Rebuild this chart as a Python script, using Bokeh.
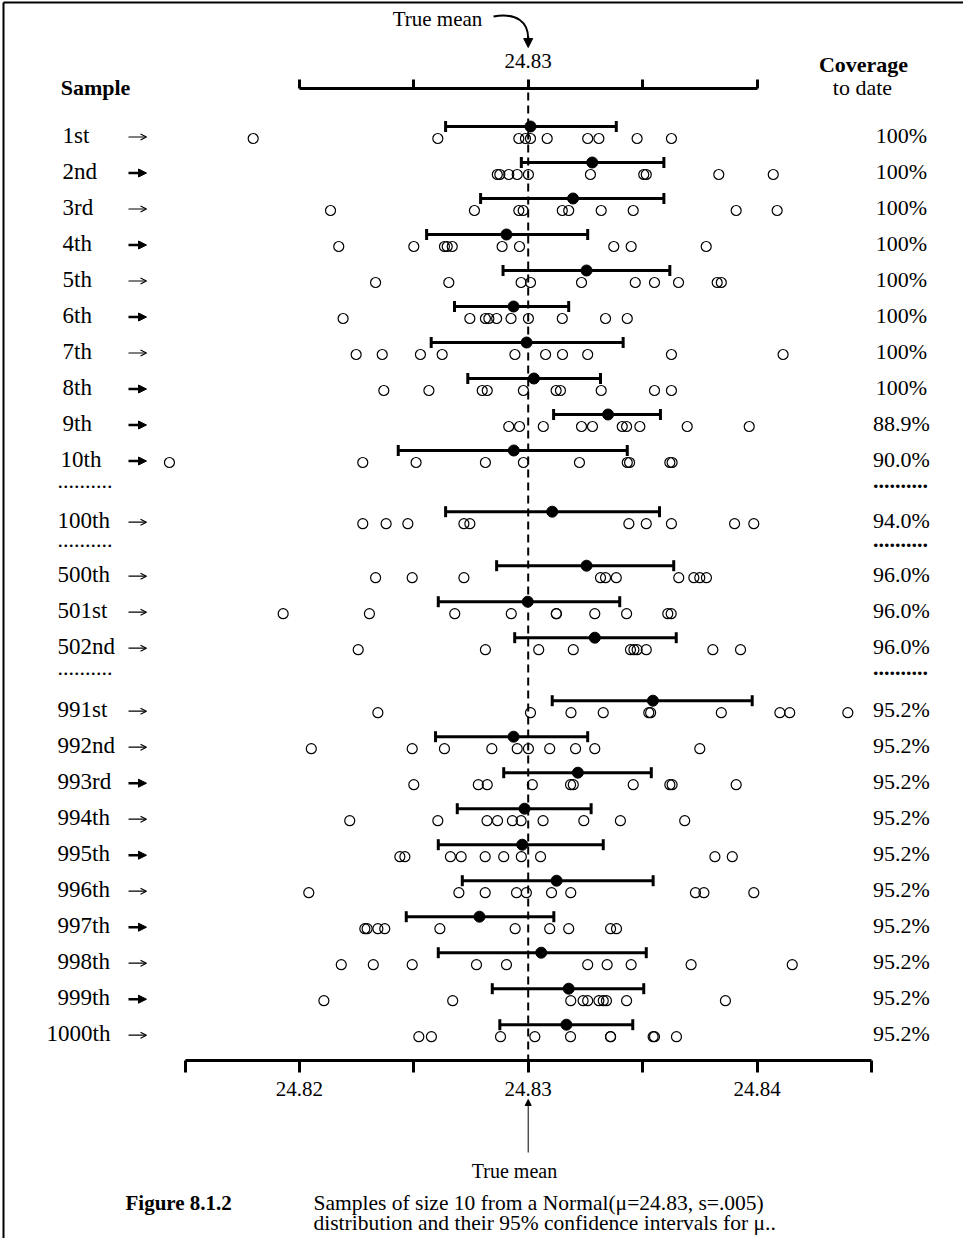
from bokeh.plotting import figure
from bokeh.models import (Range1d, LinearAxis, FixedTicker, PrintfTickFormatter,
                          ColumnDataSource, Arrow, NormalHead, OpenHead)
from bokeh.core.properties import value
from bokeh.embed import file_html
from bokeh.resources import INLINE

# ---------------- data ----------------
TRUE_MEAN = 24.83

sample_labels = ["1st", "2nd", "3rd", "4th", "5th", "6th", "7th", "8th", "9th", "10th",
                 "100th", "500th", "501st", "502nd",
                 "991st", "992nd", "993rd", "994th", "995th", "996th", "997th", "998th",
                 "999th", "1000th"]

coverage_labels = ["100%", "100%", "100%", "100%", "100%", "100%", "100%", "100%",
                   "88.9%", "90.0%", "94.0%", "96.0%", "96.0%", "96.0%",
                   "95.2%", "95.2%", "95.2%", "95.2%", "95.2%", "95.2%", "95.2%",
                   "95.2%", "95.2%", "95.2%"]

samples = [
    [24.81798, 24.82605, 24.82959, 24.82988, 24.83010, 24.83083, 24.83260, 24.83309, 24.83476, 24.83626],
    [24.82865, 24.82876, 24.82915, 24.82952, 24.83001, 24.83272, 24.83505, 24.83516, 24.83833, 24.84071],
    [24.82136, 24.82765, 24.82959, 24.82978, 24.83149, 24.83177, 24.83319, 24.83459, 24.83909, 24.84088],
    [24.82172, 24.82500, 24.82634, 24.82646, 24.82668, 24.82886, 24.82962, 24.83374, 24.83450, 24.83778],
    [24.82333, 24.82653, 24.82969, 24.83010, 24.83233, 24.83468, 24.83552, 24.83657, 24.83826, 24.83844],
    [24.82191, 24.82745, 24.82813, 24.82828, 24.82862, 24.82925, 24.83001, 24.83149, 24.83338, 24.83433],
    [24.82248, 24.82362, 24.82529, 24.82624, 24.82942, 24.83076, 24.83150, 24.83260, 24.83626, 24.84114],
    [24.82369, 24.82566, 24.82799, 24.82821, 24.82979, 24.83122, 24.83141, 24.83319, 24.83552, 24.83626],
    [24.82915, 24.82962, 24.83066, 24.83233, 24.83281, 24.83411, 24.83430, 24.83488, 24.83695, 24.83966],
    [24.81432, 24.82277, 24.82510, 24.82813, 24.82979, 24.83224, 24.83433, 24.83443, 24.83619, 24.83629],
    [24.82277, 24.82379, 24.82474, 24.82719, 24.82745, 24.83440, 24.83516, 24.83626, 24.83902, 24.83986],
    [24.82333, 24.82493, 24.82719, 24.83316, 24.83338, 24.83385, 24.83658, 24.83724, 24.83750, 24.83779],
    [24.81929, 24.82306, 24.82679, 24.82926, 24.83123, 24.83123, 24.83291, 24.83430, 24.83610, 24.83625],
    [24.82257, 24.82813, 24.83046, 24.83197, 24.83447, 24.83462, 24.83476, 24.83516, 24.83807, 24.83928],
    [24.82343, 24.83010, 24.83187, 24.83328, 24.83527, 24.83535, 24.83844, 24.84100, 24.84143, 24.84397],
    [24.82052, 24.82493, 24.82634, 24.82841, 24.82952, 24.83001, 24.83094, 24.83207, 24.83291, 24.83750],
    [24.82500, 24.82782, 24.82821, 24.83018, 24.83185, 24.83197, 24.83459, 24.83619, 24.83629, 24.83909],
    [24.82220, 24.82605, 24.82820, 24.82866, 24.82931, 24.82969, 24.83065, 24.83243, 24.83403, 24.83684],
    [24.82439, 24.82461, 24.82660, 24.82707, 24.82812, 24.82893, 24.82970, 24.83054, 24.83816, 24.83892],
    [24.82041, 24.82697, 24.82812, 24.82949, 24.82992, 24.83102, 24.83186, 24.83731, 24.83768, 24.83986],
    [24.82286, 24.82296, 24.82343, 24.82373, 24.82614, 24.82943, 24.83094, 24.83177, 24.83360, 24.83386],
    [24.82183, 24.82323, 24.82493, 24.82774, 24.82905, 24.83260, 24.83345, 24.83450, 24.83712, 24.84154],
    [24.82107, 24.82670, 24.83186, 24.83240, 24.83260, 24.83309, 24.83328, 24.83342, 24.83430, 24.83862],
    [24.82522, 24.82577, 24.82879, 24.83029, 24.83185, 24.83360, 24.83360, 24.83546, 24.83552, 24.83648],
]

sample_means = [24.83010, 24.83280, 24.83196, 24.82905, 24.83255, 24.82936, 24.82993, 24.83025,
                24.83349, 24.82937, 24.83105, 24.83255, 24.82998, 24.83291, 24.83545, 24.82936,
                24.83217, 24.82984, 24.82974, 24.83124, 24.82787, 24.83057, 24.83177, 24.83167]

ci_lower = [24.82639, 24.82970, 24.82792, 24.82556, 24.82890, 24.82678, 24.82576, 24.82736,
            24.83111, 24.82432, 24.82639, 24.82862, 24.82607, 24.82941, 24.83105, 24.82595,
            24.82893, 24.82690, 24.82607, 24.82712, 24.82467, 24.82607, 24.82843, 24.82876]

ci_upper = [24.83385, 24.83593, 24.83593, 24.83260, 24.83619, 24.83177, 24.83415, 24.83316,
            24.83578, 24.83433, 24.83574, 24.83636, 24.83400, 24.83647, 24.83979, 24.83260,
            24.83538, 24.83275, 24.83328, 24.83546, 24.83112, 24.83516, 24.83505, 24.83457]

bottom_major_ticks = [24.82, 24.83, 24.84]
bottom_minor_ticks = [24.815, 24.825, 24.835, 24.845]
top_major_ticks = [24.83]
top_minor_ticks = [24.82, 24.825, 24.835, 24.84]

# ---------------- styling / layout ----------------
arrow_bold = [False, True, False, True, False, True, False, True, True, True,
              False, False, False, False,
              False, False, True, False, True, False, True, False, True, False]

SERIF = "Liberation Serif"
W, H = 963, 1238
PX_PER_UNIT = 22880.0       # pixels per data unit
MEAN_PX = 527.7             # x pixel of the true mean


def vx(px):
    return TRUE_MEAN + (px - MEAN_PX) / PX_PER_UNIT


ROW0_Y, ROW_STEP = 138.0, 36.0
ellipsis_gaps = {9: (0.7, 1.0), 10: (0.65, 0.85), 13: (0.7, 1.05)}

row_y, dots_y = [], []
slot = 0.0
for i in range(len(sample_labels)):
    row_y.append(ROW0_Y + ROW_STEP * slot)
    if i in ellipsis_gaps:
        a, b = ellipsis_gaps[i]
        dots_y.append(ROW0_Y + ROW_STEP * (slot + a))
        slot += a + b
    else:
        slot += 1.0

ci_y = [y - 12 for y in row_y]
TOP_AXIS_Y = 88
BOTTOM_AXIS_Y = 1060

p = figure(width=W, height=H, x_range=Range1d(vx(0), vx(W)), y_range=Range1d(H, 0),
           x_axis_type=None, y_axis_type=None, toolbar_location=None, output_backend="svg",
           min_border=0, title=None)
p.outline_line_color = None
p.background_fill_color = "white"
p.border_fill_color = "white"


def style_axis(ax, tick_out, standoff):
    ax.axis_line_width = 3
    ax.axis_line_color = "black"
    ax.major_tick_line_width = 3
    ax.minor_tick_line_width = 3
    ax.major_tick_out = tick_out
    ax.major_tick_in = 0
    ax.minor_tick_out = tick_out
    ax.minor_tick_in = 0
    ax.major_label_text_font = SERIF
    ax.major_label_text_font_size = "21px"
    ax.major_label_text_color = "black"
    ax.major_label_standoff = standoff


bottom_axis = LinearAxis(fixed_location=BOTTOM_AXIS_Y,
                         bounds=(min(bottom_minor_ticks), max(bottom_minor_ticks)),
                         ticker=FixedTicker(ticks=bottom_major_ticks, minor_ticks=bottom_minor_ticks),
                         formatter=PrintfTickFormatter(format="%.2f"))
style_axis(bottom_axis, 12, 9)
p.add_layout(bottom_axis, "below")

top_axis = LinearAxis(fixed_location=TOP_AXIS_Y,
                      bounds=(min(top_minor_ticks), max(top_minor_ticks)),
                      ticker=FixedTicker(ticks=top_major_ticks, minor_ticks=top_minor_ticks),
                      formatter=PrintfTickFormatter(format="%.2f"))
style_axis(top_axis, 9, 12)
p.add_layout(top_axis, "above")

# frame lines (left and top of the figure box)
p.segment(x0=[vx(3), vx(3)], y0=[2, 2], x1=[vx(3), vx(W)], y1=[H, 2],
          line_color="black", line_width=2)

# true-mean dashed line
p.segment(x0=[TRUE_MEAN], y0=[TOP_AXIS_Y + 4], x1=[TRUE_MEAN], y1=[BOTTOM_AXIS_Y],
          line_color="black", line_width=2, line_dash="8 5")

# confidence intervals
p.segment(x0=ci_lower, y0=ci_y, x1=ci_upper, y1=ci_y, line_color="black", line_width=3)
p.segment(x0=ci_lower, y0=[y - 5.5 for y in ci_y], x1=ci_lower, y1=[y + 5.5 for y in ci_y],
          line_color="black", line_width=3)
p.segment(x0=ci_upper, y0=[y - 5.5 for y in ci_y], x1=ci_upper, y1=[y + 5.5 for y in ci_y],
          line_color="black", line_width=3)
p.scatter(sample_means, ci_y, marker="circle", size=11, fill_color="black", line_color="black")

# sample points
xs = [v for row in samples for v in row]
ys = [row_y[i] for i, row in enumerate(samples) for _ in row]
p.scatter(xs, ys, marker="circle", size=10, fill_color=None, line_color="black", line_width=1.2)


def add_text(x, y, text, size="22px", align="left", style="normal"):
    # y is the visual centre of the text as rendered
    p.text(x=x, y=y, text=text, text_font=value(SERIF), text_font_size=size,
           text_font_style=style, text_align=align, text_baseline="alphabetic",
           text_color="black")


# row labels
label_left = {1: 62, 2: 60, 3: 57, 4: 46}
label_x = [vx(label_left[sum(ch.isdigit() for ch in lab)]) for lab in sample_labels]
add_text(label_x, [y - 3 for y in row_y], sample_labels, size="23px")

# coverage labels
add_text([vx(901)] * len(coverage_labels), [y - 3 for y in row_y], coverage_labels, align="center")

# ellipsis rows
add_text([vx(57)] * len(dots_y), [y - 7 for y in dots_y], [".........."] * len(dots_y))
add_text([vx(900)] * len(dots_y), [y - 7 for y in dots_y], [".........."] * len(dots_y),
         align="center", style="bold")

# row arrows
thin = [i for i, b in enumerate(arrow_bold) if not b]
bold = [i for i, b in enumerate(arrow_bold) if b]
thin_src = ColumnDataSource(dict(xs=[vx(128)] * len(thin), xe=[vx(146)] * len(thin),
                                 y=[row_y[i] - 1.5 for i in thin]))
bold_src = ColumnDataSource(dict(xs=[vx(128)] * len(bold), xe=[vx(146)] * len(bold),
                                 y=[row_y[i] - 1.5 for i in bold]))
p.add_layout(Arrow(x_start="xs", y_start="y", x_end="xe", y_end="y", source=thin_src,
                   line_width=1.2, line_color="black",
                   end=OpenHead(size=6, line_width=1.2, line_color="black")))
p.add_layout(Arrow(x_start="xs", y_start="y", x_end="xe", y_end="y", source=bold_src,
                   line_width=2.5, line_color="black",
                   end=NormalHead(size=8, fill_color="black", line_color="black", line_width=1)))

# headers
add_text([vx(95)], [87], ["Sample"], size="22px", align="center", style="bold")
add_text([vx(863)], [64], ["Coverage"], size="22px", align="center", style="bold")
add_text([vx(862)], [87], ["to date"], size="22px", align="center")

# top "True mean" with curved arrow
add_text([vx(437)], [18], ["True mean"], size="21px", align="center")
p.bezier(x0=vx(493), y0=16, x1=TRUE_MEAN, y1=38, cx0=vx(517), cy0=12, cx1=TRUE_MEAN, cy1=22,
         line_color="black", line_width=2)
p.add_layout(Arrow(x_start=TRUE_MEAN, y_start=36, x_end=TRUE_MEAN, y_end=47, line_width=2,
                   line_color="black",
                   end=NormalHead(size=9, fill_color="black", line_color="black", line_width=1)))

# bottom "True mean" arrow
p.add_layout(Arrow(x_start=TRUE_MEAN, y_start=1152, x_end=TRUE_MEAN, y_end=1099, line_width=1,
                   line_color="black",
                   end=NormalHead(size=6, fill_color="black", line_color="black", line_width=1)))
add_text([vx(514)], [1170], ["True mean"], size="20px", align="center")

# caption
add_text([vx(125)], [1202], ["Figure 8.1.2"], size="21px", style="bold")
add_text([vx(313)], [1202], ["Samples of size 10 from a Normal(\u03bc=24.83, s=.005)"], size="21.5px")
add_text([vx(313)], [1222], ["distribution and their 95% confidence intervals for \u03bc.."], size="21.5px")

open("out.html", "w").write(file_html(p, INLINE))
